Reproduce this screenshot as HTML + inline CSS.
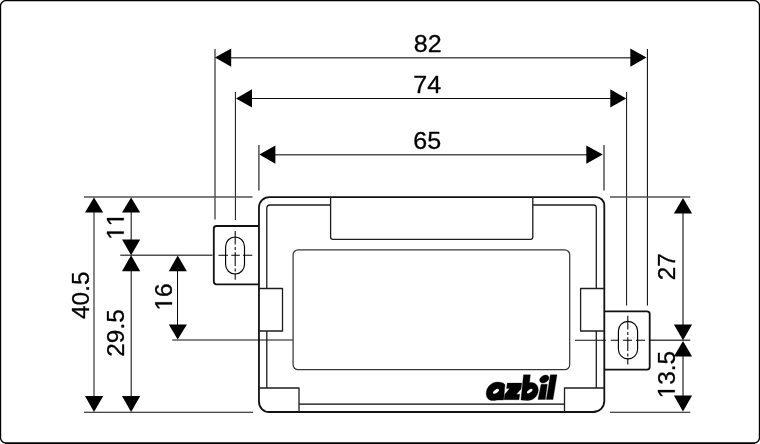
<!DOCTYPE html>
<html>
<head>
<meta charset="utf-8">
<style>
html,body{margin:0;padding:0;background:#fff;}
body{width:760px;height:444px;overflow:hidden;font-family:"Liberation Sans",sans-serif;}
svg{display:block;position:absolute;left:0;top:0;}
text{font-family:"Liberation Sans",sans-serif;fill:#000;stroke:#000;stroke-width:0.3px;}
</style>
</head>
<body>
<svg width="760" height="444" viewBox="0 0 760 444">
<rect x="0" y="0" width="760" height="444" fill="#fff"/>
<!-- frame -->
<rect x="0.5" y="0.6" width="759" height="442.5" rx="5.5" ry="5.5" fill="none" stroke="#000" stroke-width="1.35"/>
<path d="M5 443.3H755" stroke="#000" stroke-width="1.4" fill="none"/>

<!-- dimension / extension lines -->
<g fill="none" stroke="#333" stroke-width="0.9">
  <!-- top dims horizontals -->
  <path d="M230 57.75H632" stroke="#505050" stroke-width="1.55"/>
  <path d="M251 98.5H611" stroke="#000" stroke-width="0.95"/>
  <path d="M274 154.85H588" stroke="#505050" stroke-width="1.5"/>
  <!-- verticals -->
  <path d="M215 49V219.5" stroke="#444" stroke-width="1.35"/>
  <path d="M647.4 49V305.6" stroke="#000" stroke-width="1"/>
  <path d="M235.4 92V220" stroke="#000" stroke-width="0.95"/>
  <path d="M626.6 92V305.6" stroke="#000" stroke-width="0.95"/>
  <path d="M258.9 145V190.6" stroke="#505050" stroke-width="1.5"/>
  <path d="M604 145V190.6" stroke="#505050" stroke-width="1.5"/>
  <!-- left horizontals -->
  <path d="M84 197H252.5" stroke="#505050" stroke-width="1.5"/>
  <path d="M84 412.25H253" stroke="#000" stroke-width="0.95"/>
  <path d="M120.25 255.25H212.5" stroke="#505050" stroke-width="1.4"/>
  <path d="M172.25 340H293" stroke="#000" stroke-width="0.95"/>
  <!-- left verticals -->
  <path d="M94 211V398" stroke="#000" stroke-width="0.95"/>
  <path d="M131.25 211V241M131.25 270V398" stroke="#444" stroke-width="1.35"/>
  <path d="M177.5 270V326" stroke="#000" stroke-width="0.95"/>
  <!-- right horizontals -->
  <path d="M610 197H690.25" stroke="#505050" stroke-width="1.5"/>
  <path d="M650 340.25H690.25" stroke="#444" stroke-width="1.35"/>
  <path d="M610 412.25H690.25" stroke="#000" stroke-width="0.95"/>
  <path d="M575 340.25H606" stroke="#000" stroke-width="0.95"/>
  <!-- right vertical -->
  <path d="M683 212V326M683 355V397" stroke="#505050" stroke-width="1.5"/>
</g>

<!-- arrows -->
<g fill="#000" stroke="none">
  <path d="M215 57.6L231.2 48.5V66.8Z"/>
  <path d="M646.5 57.6L630.3 48.5V66.8Z"/>
  <path d="M236 98.5L252 89.3V107.5Z"/>
  <path d="M626.2 98.5L610.3 89.3V107.5Z"/>
  <path d="M259.3 154.6L275.4 145.5V163.8Z"/>
  <path d="M602.8 154.6L586.3 145.5V163.8Z"/>
  <!-- left -->
  <path d="M94 197.5L85 212.6H103.2Z"/>
  <path d="M94 412L85 396H103.2Z"/>
  <path d="M131.1 197.5L122 212.6H140.2Z"/>
  <path d="M131.1 255.2L122 239.6H140.2Z"/>
  <path d="M131.1 255.2L122 271.3H140.2Z"/>
  <path d="M131.1 412L122 396H140.2Z"/>
  <path d="M177.7 255.5L168.8 271.2H186.9Z"/>
  <path d="M177.7 339.6L168.8 324.4H186.9Z"/>
  <!-- right -->
  <path d="M683 198L673.9 213.5H692.1Z"/>
  <path d="M683 340.2L673.9 324.4H692.1Z"/>
  <path d="M683 341L673.9 356.6H692.1Z"/>
  <path d="M683 411.6L673.9 395.6H692.1Z"/>
</g>

<!-- body -->
<g fill="none" stroke="#111" stroke-linejoin="round">
  <!-- outer body -->
  <path d="M258.95 207.5A10.4 10.4 0 0 1 269.34999999999997 197.1H596.0999999999999A8.2 8.2 0 0 1 604.3 205.29999999999998V401.0A11.0 11.0 0 0 1 593.3 412.0H269.15A10.2 10.2 0 0 1 258.95 401.8Z" stroke-width="1.8"/>
  <!-- brackets -->
  <path d="M258.9 226H216.5Q213.8 226 213.8 228.7V281.6Q213.8 284.3 216.5 284.3H258.9" stroke-width="1.8"/>
  <path d="M604.3 311.3H647Q649.7 311.3 649.7 314V367Q649.7 369.7 647 369.7H604.3" stroke-width="1.8"/>
  <!-- inner outline -->
  <g stroke="#1c1c1c" stroke-width="1.3">
    <path d="M266.8 288.5V208.5Q266.8 205 270 205H330.6"/>
    <path d="M532.8 205H593.4Q596.3 205 596.3 207.9V288.5"/>
    <path d="M266.8 331V388"/>
    <path d="M596.3 331V388"/>
    <path d="M299 404.1H564.4" stroke="#000" stroke-width="1.4"/>
    <!-- top notch -->
    <path d="M330.6 197V237Q330.6 239.4 333 239.4H530.4Q532.8 239.4 532.8 237V197"/>
    <!-- side notches -->
    <path d="M259 288.5H282.5V331H259"/>
    <path d="M604.3 288.5H580.6V331H604.3"/>
    <!-- feet -->
    <path d="M259 388H299V411.8"/>
    <path d="M604.3 388H564.5V411.8"/>
    <!-- display window -->
    <rect x="293.1" y="249.8" width="276.6" height="119.9" rx="5" ry="5" stroke="#383838" stroke-width="1.25"/>
  </g>
  <!-- slots -->
  <g stroke="#000" stroke-width="1.15">
    <rect x="225.6" y="237" width="18.9" height="37" rx="9.45" ry="9.45"/>
    <rect x="618.4" y="321.3" width="19.2" height="37.6" rx="9.6" ry="9.6"/>
  </g>
  <!-- centre lines -->
  <g stroke="#000" stroke-width="1.05">
    <path d="M218.5 255.25H228M231.3 255.25H239.8M243 255.25H252.3"/>
    <path d="M235.2 231V244.4M235.2 246.9V250M235.2 252.3V266M235.2 268.5V271.5M235.2 273.5V279.8"/>
    <path d="M610.8 340.25H619M623 340.25H632M636 340.25H645"/>
    <path d="M627.8 315.7V329.5M627.8 332V335M627.8 337.3V351M627.8 353.5V356.5M627.8 358.5V364.6"/>
  </g>
</g>

<!-- dimension text -->
<g fill="#000" stroke="#000" stroke-width="0.3" stroke-linejoin="round" opacity="0.999">
<g transform="translate(413.86 51.7) scale(1.015 1)"><text x="0.00" y="0" font-size="24.7">82</text></g>
<g transform="translate(413.26 92.5) scale(1.015 1)"><text x="0.00" y="0" font-size="24.7">74</text></g>
<g transform="translate(413.36 149.1) scale(1.015 1)"><text x="0.00" y="0" font-size="24.7">65</text></g>
<g transform="translate(89 318.99) rotate(-90)"><text x="0.00" y="0" font-size="24.4">40.5</text></g>
<g transform="translate(124 356.74) rotate(-90)"><text x="0.00" y="0" font-size="24.4">29.5</text></g>
<g transform="translate(123.75 239.87) rotate(-90)"><path transform="translate(0.00 0)" d="M6.14 0.00L6.14 -14.74L2.35 -12.03L2.35 -14.06L6.31 -16.79L8.29 -16.79L8.29 0.00Z"/><path transform="translate(13.57 0)" d="M6.14 0.00L6.14 -14.74L2.35 -12.03L2.35 -14.06L6.31 -16.79L8.29 -16.79L8.29 0.00Z"/></g>
<g transform="translate(172 310.57) rotate(-90)"><path transform="translate(0.00 0)" d="M6.14 0.00L6.14 -14.74L2.35 -12.03L2.35 -14.06L6.31 -16.79L8.29 -16.79L8.29 0.00Z"/><text x="13.57" y="0" font-size="24.4">6</text></g>
<g transform="translate(674.7 280.32) rotate(-90)"><text x="0.00" y="0" font-size="24.4">27</text></g>
<g transform="translate(674.75 398.34) rotate(-90)"><path transform="translate(0.00 0)" d="M6.14 0.00L6.14 -14.74L2.35 -12.03L2.35 -14.06L6.31 -16.79L8.29 -16.79L8.29 0.00Z"/><text x="13.57" y="0" font-size="24.4">3.5</text></g>
</g>
<!-- logo -->
<g fill="#000" stroke="#000" stroke-width="0.3" stroke-linejoin="round" aria-label="azbil">
  <!-- a -->
  <path d="M497.6 382.1C501 382.1 504 383 505 384.7L503.6 400.1H497.2C495.6 400.5 494.2 400.6 492.8 400.6C488.6 400.6 486 397.5 486.2 393.2C486.5 387 491.6 382.1 497.6 382.1Z"/>
  <!-- z -->
  <path d="M507.3 383.1H521.8L521 389L516.4 394.3H519.8L519 399.7H504.1L504.7 394.4L509.6 388.6H506.5Z"/>
  <!-- b -->
  <path d="M523.5 374.8H530.4L529.5 382.6C534.6 381.6 538.4 385 538.3 390C538.2 396 533.4 400.5 527.6 400.5C525 400.5 522.8 400.3 520.9 400Z"/>
  <!-- i -->
  <path d="M541.1 384.2H547.3L545.3 399.5H538Z"/>
  <ellipse cx="544.3" cy="379" rx="5" ry="3.5" transform="rotate(-30 544.3 379)"/>
  <!-- l -->
  <path d="M550.4 374.8H557L553 399.5H546.3Z"/>
</g>
<g fill="#fff" stroke="none">
  <ellipse cx="496" cy="391.3" rx="3.4" ry="1.6" transform="rotate(-34 496 391.3)"/>
  <ellipse cx="529.7" cy="391.1" rx="3.2" ry="1.5" transform="rotate(-36 529.7 391.1)"/>
</g>
</svg>
</body>
</html>
